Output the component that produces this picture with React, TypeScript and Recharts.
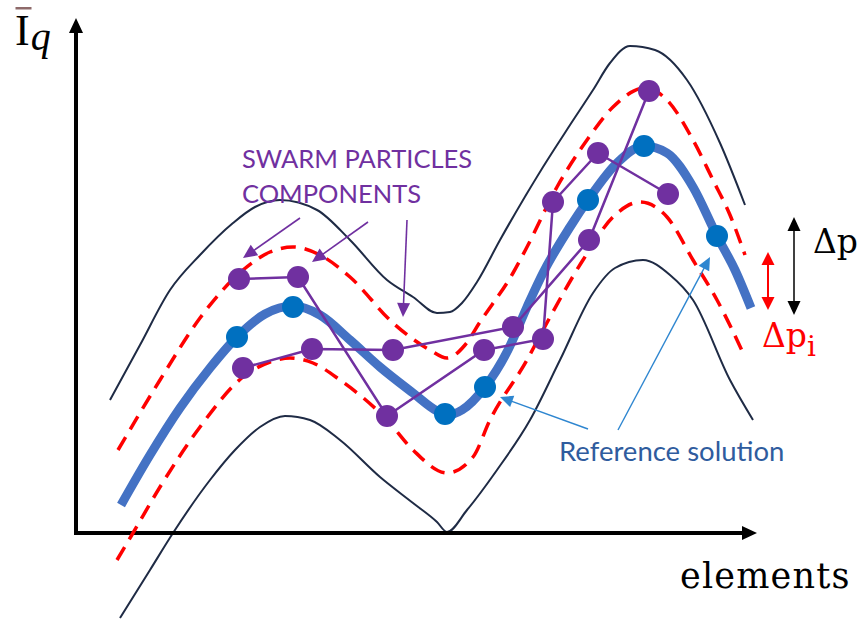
import React from "react";
import { ComposedChart, Line, XAxis, YAxis, ReferenceLine, ReferenceDot } from "recharts";

// Units: x = "elements" (0 at the vertical axis), y = Ī_q (0 at the horizontal axis)
const REF_CURVE = [
  { x: 4.5, y: 2.8 }, { x: 7.4, y: 7.8 }, { x: 10.4, y: 12.5 }, { x: 13.4, y: 16.5 },
  { x: 16.1, y: 19.6 }, { x: 18.9, y: 21.9 }, { x: 21.7, y: 22.7 }, { x: 24.4, y: 21.8 },
  { x: 27.4, y: 19.3 }, { x: 30.4, y: 16.6 }, { x: 33.7, y: 14.0 }, { x: 36.1, y: 12.2 },
  { x: 37.1, y: 11.8 }, { x: 38.6, y: 12.3 }, { x: 40.9, y: 14.6 }, { x: 43.2, y: 18.3 },
  { x: 45.1, y: 22.6 }, { x: 46.7, y: 26.0 }, { x: 49.4, y: 30.6 }, { x: 51.2, y: 33.3 },
  { x: 54.1, y: 37.0 }, { x: 56.8, y: 38.7 }, { x: 59.1, y: 38.0 }, { x: 61.7, y: 34.6 },
  { x: 64.1, y: 29.7 }, { x: 65.9, y: 26.3 }, { x: 67.5, y: 22.5 },
];

const REF_POINTS = [
  { x: 16.1, y: 19.6 }, { x: 21.7, y: 22.6 }, { x: 36.9, y: 11.9 }, { x: 40.9, y: 14.6 },
  { x: 51.2, y: 33.3 }, { x: 56.8, y: 38.7 }, { x: 64.1, y: 29.7 },
];

const UPPER_BAND = [
  { x: 4.2, y: 8.3 }, { x: 8.4, y: 15.3 }, { x: 12.4, y: 21.5 }, { x: 16.7, y: 26.3 },
  { x: 19.4, y: 28.1 }, { x: 21.7, y: 28.6 }, { x: 24.4, y: 27.8 }, { x: 27.4, y: 25.6 },
  { x: 31.7, y: 21.0 }, { x: 35.4, y: 18.3 }, { x: 37.1, y: 17.5 }, { x: 38.9, y: 18.8 },
  { x: 40.4, y: 21.1 }, { x: 43.7, y: 26.0 }, { x: 45.1, y: 28.6 }, { x: 48.1, y: 34.6 },
  { x: 51.1, y: 39.3 }, { x: 53.7, y: 42.6 }, { x: 56.9, y: 44.5 }, { x: 59.1, y: 43.3 },
  { x: 61.7, y: 39.3 }, { x: 63.7, y: 35.3 }, { x: 65.4, y: 31.8 }, { x: 66.9, y: 27.8 },
];

const LOWER_BAND = [
  { x: 4.1, y: -2.7 }, { x: 5.7, y: 0.0 }, { x: 8.4, y: 4.6 }, { x: 12.4, y: 10.6 },
  { x: 16.7, y: 15.6 }, { x: 19.4, y: 17.1 }, { x: 21.4, y: 17.5 }, { x: 23.7, y: 17.0 },
  { x: 26.4, y: 15.3 }, { x: 31.1, y: 11.3 }, { x: 33.7, y: 8.3 }, { x: 37.1, y: 6.0 },
  { x: 39.7, y: 7.6 }, { x: 41.4, y: 11.3 }, { x: 45.1, y: 17.3 }, { x: 46.7, y: 20.3 },
  { x: 50.7, y: 27.3 }, { x: 53.7, y: 31.6 }, { x: 56.4, y: 33.1 }, { x: 59.1, y: 31.6 },
  { x: 61.7, y: 27.3 }, { x: 64.1, y: 23.3 }, { x: 66.9, y: 17.6 },
];

const OUTER_UPPER = [
  { x: 3.4, y: 13.3 }, { x: 6.4, y: 18.8 }, { x: 9.4, y: 24.3 }, { x: 12.4, y: 27.8 },
  { x: 15.7, y: 31.0 }, { x: 17.9, y: 32.6 }, { x: 20.4, y: 33.3 }, { x: 24.1, y: 32.3 },
  { x: 27.4, y: 29.3 }, { x: 31.1, y: 25.3 }, { x: 33.7, y: 23.6 }, { x: 36.1, y: 22.0 },
  { x: 37.4, y: 22.1 }, { x: 38.6, y: 23.0 }, { x: 40.1, y: 25.1 }, { x: 42.4, y: 29.3 },
  { x: 46.7, y: 36.6 }, { x: 49.4, y: 40.8 }, { x: 51.7, y: 44.3 }, { x: 53.4, y: 47.0 },
  { x: 55.4, y: 48.7 }, { x: 57.9, y: 48.3 }, { x: 61.1, y: 45.3 }, { x: 64.4, y: 39.0 },
  { x: 66.9, y: 32.8 },
];

const OUTER_LOWER = [
  { x: 4.4, y: -8.5 }, { x: 7.4, y: -3.7 }, { x: 9.7, y: 0.0 }, { x: 13.4, y: 5.3 },
  { x: 15.9, y: 8.3 }, { x: 18.4, y: 10.6 }, { x: 20.9, y: 11.7 }, { x: 23.4, y: 11.3 },
  { x: 26.4, y: 9.3 }, { x: 30.4, y: 5.6 }, { x: 33.7, y: 3.0 }, { x: 36.1, y: 1.1 },
  { x: 37.1, y: 0.1 }, { x: 39.1, y: 2.3 }, { x: 42.1, y: 6.3 }, { x: 45.4, y: 11.3 },
  { x: 48.4, y: 17.3 }, { x: 51.7, y: 24.0 }, { x: 53.9, y: 26.5 }, { x: 56.7, y: 27.3 },
  { x: 59.4, y: 25.8 }, { x: 61.7, y: 23.3 }, { x: 65.4, y: 15.3 }, { x: 67.7, y: 11.3 },
];

const PARTICLE_A = [
  { x: 16.3, y: 25.4 }, { x: 22.2, y: 25.6 }, { x: 31.1, y: 11.7 }, { x: 40.8, y: 18.3 },
  { x: 46.7, y: 19.4 }, { x: 47.7, y: 33.1 }, { x: 52.2, y: 38.0 }, { x: 59.2, y: 33.9 },
];

const PARTICLE_B = [
  { x: 16.7, y: 16.5 }, { x: 23.6, y: 18.4 }, { x: 31.7, y: 18.3 }, { x: 43.7, y: 20.6 },
  { x: 51.3, y: 29.3 }, { x: 57.3, y: 44.2 },
];

const X_DOMAIN = [-7.6, 79.0];
const Y_DOMAIN = [-8.7, 53.3];

const NAVY = "#1F2B45";
const RED = "#FF0000";
const BLUE_LINE = "#4472C4";
const BLUE_DOT = "#0070C0";
const PURPLE = "#7030A0";
const ARROW_BLUE = "#2E86D0";

type ArrowOpts = { color: string; width: number; headLen: number; headW: number; both?: boolean; cap?: string };

const makeArrow = (o: ArrowOpts) => (props: any) => {
  const { x1, y1, x2, y2 } = props;
  const dx = x2 - x1;
  const dy = y2 - y1;
  const len = Math.sqrt(dx * dx + dy * dy) || 1;
  const ux = dx / len;
  const uy = dy / len;
  const px = -uy;
  const py = ux;
  const head = (tx: number, ty: number, dirx: number, diry: number) => {
    const bx = tx - dirx * o.headLen;
    const by = ty - diry * o.headLen;
    return `${tx},${ty} ${bx + px * o.headW / 2},${by + py * o.headW / 2} ${bx - px * o.headW / 2},${by - py * o.headW / 2}`;
  };
  const sx = o.both ? x1 + ux * (o.headLen - 1) : x1;
  const sy = o.both ? y1 + uy * (o.headLen - 1) : y1;
  const ex = x2 - ux * (o.headLen - 1);
  const ey = y2 - uy * (o.headLen - 1);
  return (
    <g>
      <line x1={sx} y1={sy} x2={ex} y2={ey} stroke={o.color} strokeWidth={o.width} strokeLinecap={(o.cap as any) || "butt"} />
      <polygon points={head(x2, y2, ux, uy)} fill={o.color} />
      {o.both ? <polygon points={head(x1, y1, -ux, -uy)} fill={o.color} /> : null}
    </g>
  );
};

const axisArrow = makeArrow({ color: "#000", width: 4, headLen: 15, headW: 14, cap: "square" });
const purpleArrow = makeArrow({ color: PURPLE, width: 1.6, headLen: 14, headW: 13 });
const blueArrow = makeArrow({ color: ARROW_BLUE, width: 1.4, headLen: 13, headW: 12 });
const blackDouble = makeArrow({ color: "#000", width: 1.5, headLen: 14, headW: 13, both: true });
const redDouble = makeArrow({ color: RED, width: 2, headLen: 13, headW: 13, both: true });

const IqLabel = (p: any) => (
  <g>
    <rect x={p.cx + 0.5} y={p.cy - 38} width={16} height={2.5} fill="#8E6A6A" />
    <text x={p.cx} y={p.cy} fontFamily="Liberation Serif" fontSize={44} fill="#000">
      I<tspan fontStyle="italic" fontSize={40} dy={5} dx={1}>q</tspan>
    </text>
  </g>
);

const ElementsLabel = (p: any) => (
  <text x={p.cx} y={p.cy} fontFamily="DejaVu Serif" fontSize={35} letterSpacing={1.2} fill="#000">elements</text>
);

const DpLabel = (p: any) => (
  <text x={p.cx} y={p.cy} fontFamily="DejaVu Serif" fontSize={33} fill="#000">Δp</text>
);

const DpiLabel = (p: any) => (
  <text x={p.cx} y={p.cy} fontFamily="DejaVu Serif" fontSize={33} fill={RED}>
    Δp<tspan fontSize={28} dy={9}>i</tspan>
  </text>
);

const SwarmLabel = (p: any) => (
  <text x={p.cx} y={p.cy} fontFamily="Lato" fontSize={25.5} fill={PURPLE}>
    <tspan x={p.cx}>SWARM PARTICLES</tspan>
    <tspan x={p.cx} dy={35}>COMPONENTS</tspan>
  </text>
);

const RefLabel = (p: any) => (
  <text x={p.cx} y={p.cy} fontFamily="Lato" fontSize={27.5} fill="#2F5C9E">Reference solution</text>
);

export default function App() {
  return (
    <div style={{ position: "absolute", left: 0, top: 0, width: 866, height: 620, background: "#fff" }}>
      <ComposedChart width={866} height={620} margin={{ top: 0, right: 0, bottom: 0, left: 0 }}>
        <XAxis type="number" dataKey="x" domain={X_DOMAIN} allowDataOverflow hide />
        <YAxis type="number" dataKey="y" domain={Y_DOMAIN} allowDataOverflow hide />

        <Line data={OUTER_UPPER} dataKey="y" type="monotone" stroke={NAVY} strokeWidth={2} dot={false} activeDot={false} isAnimationActive={false} />
        <Line data={OUTER_LOWER} dataKey="y" type="monotone" stroke={NAVY} strokeWidth={2} dot={false} activeDot={false} isAnimationActive={false} />

        <ReferenceLine segment={[{ x: 0, y: 0 }, { x: 0, y: 51.5 }]} shape={axisArrow} ifOverflow="visible" />
        <ReferenceLine segment={[{ x: 0, y: 0 }, { x: 68.1, y: 0 }]} shape={axisArrow} ifOverflow="visible" />

        <Line data={UPPER_BAND} dataKey="y" type="monotone" stroke={RED} strokeWidth={3.5} strokeDasharray="15 9" dot={false} activeDot={false} isAnimationActive={false} />
        <Line data={LOWER_BAND} dataKey="y" type="monotone" stroke={RED} strokeWidth={3.5} strokeDasharray="15 9" dot={false} activeDot={false} isAnimationActive={false} />

        <Line data={REF_CURVE} dataKey="y" type="monotone" stroke={BLUE_LINE} strokeWidth={9} dot={false} activeDot={false} isAnimationActive={false} />
        <Line data={REF_POINTS} dataKey="y" type="linear" stroke="none" dot={{ r: 11, fill: BLUE_DOT, stroke: "none" }} activeDot={false} isAnimationActive={false} />

        <Line data={PARTICLE_A} dataKey="y" type="linear" stroke={PURPLE} strokeWidth={2.5} dot={{ r: 11, fill: PURPLE, stroke: "none" }} activeDot={false} isAnimationActive={false} />
        <Line data={PARTICLE_B} dataKey="y" type="linear" stroke={PURPLE} strokeWidth={2.5} dot={{ r: 11, fill: PURPLE, stroke: "none" }} activeDot={false} isAnimationActive={false} />

        <ReferenceLine segment={[{ x: 22.4, y: 31.5 }, { x: 16.7, y: 27.5 }]} shape={purpleArrow} ifOverflow="visible" />
        <ReferenceLine segment={[{ x: 29.2, y: 31.1 }, { x: 23.6, y: 27.1 }]} shape={purpleArrow} ifOverflow="visible" />
        <ReferenceLine segment={[{ x: 33.1, y: 31.3 }, { x: 32.7, y: 21.6 }]} shape={purpleArrow} ifOverflow="visible" />

        <ReferenceLine segment={[{ x: 51.2, y: 10.4 }, { x: 42.4, y: 13.6 }]} shape={blueArrow} ifOverflow="visible" />
        <ReferenceLine segment={[{ x: 54.2, y: 10.3 }, { x: 63.4, y: 27.6 }]} shape={blueArrow} ifOverflow="visible" />

        <ReferenceLine segment={[{ x: 71.8, y: 31.6 }, { x: 71.8, y: 21.8 }]} shape={blackDouble} ifOverflow="visible" />
        <ReferenceLine segment={[{ x: 69.2, y: 28.1 }, { x: 69.2, y: 22.3 }]} shape={redDouble} ifOverflow="visible" />

        <ReferenceDot x={-6.1} y={48.8} r={0} shape={IqLabel} ifOverflow="visible" />
        <ReferenceDot x={60.4} y={-5.5} r={0} shape={ElementsLabel} ifOverflow="visible" />
        <ReferenceDot x={73.7} y={28.0} r={0} shape={DpLabel} ifOverflow="visible" />
        <ReferenceDot x={68.6} y={18.6} r={0} shape={DpiLabel} ifOverflow="visible" />
        <ReferenceDot x={16.6} y={36.5} r={0} shape={SwarmLabel} ifOverflow="visible" />
        <ReferenceDot x={48.3} y={7.2} r={0} shape={RefLabel} ifOverflow="visible" />
      </ComposedChart>
    </div>
  );
}
